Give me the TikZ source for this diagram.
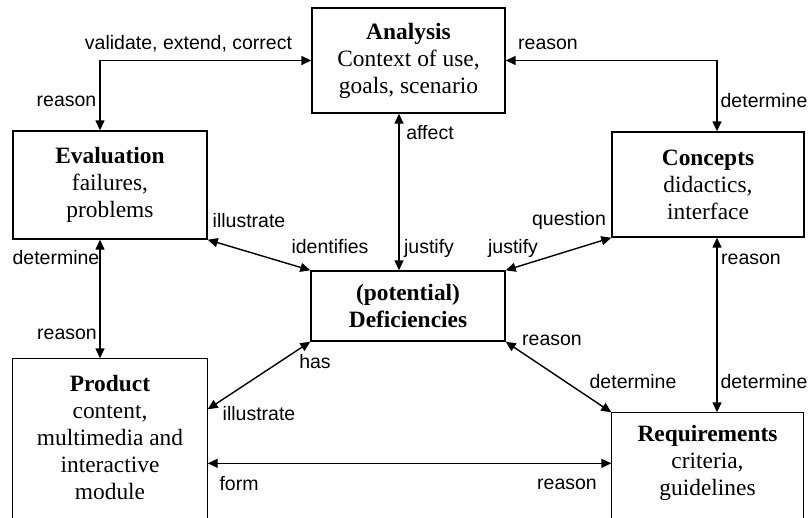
\documentclass[tikz,border=0pt]{standalone}
\usepackage{fontspec}
\setmainfont{Liberation Serif}
\setsansfont{Liberation Sans}
\usetikzlibrary{arrows.meta,calc}
\begin{document}
\begin{tikzpicture}[x=1pt,y=-1pt,
  box/.style={draw,line width=1.4pt,align=center,inner sep=0pt,font=\fontsize{23.4}{27}\selectfont},
  lbl/.style={font=\sffamily\fontsize{19.5}{22}\selectfont,inner sep=0pt},
  conn/.style={line width=1.4pt,{Triangle[length=10pt,width=9pt]}-{Triangle[length=10pt,width=9pt]}},
  edge/.style={line width=1.4pt}]
\useasboundingbox (0,0) rectangle (808,517);
\clip (0,0) rectangle (808,517);

% boxes
\node[box,minimum width=193pt,minimum height=105pt] (ana) at (408.5,60.5)
  {\textbf{Analysis}\\Context of use,\\goals, scenario};
\node[box,minimum width=194pt,minimum height=108pt] (eva) at (110,185)
  {\textbf{Evaluation}\\failures,\\problems};
\node[box,minimum width=192pt,minimum height=105pt] (con) at (708,184.5)
  {\textbf{Concepts}\\didactics,\\interface};
\node[box,minimum width=194pt,minimum height=70pt] (def) at (408,306)
  {\textbf{(potential)}\\\textbf{Deficiencies}};
\node[box,draw=none,minimum width=194pt,minimum height=156pt] (pro) at (110,437)
  {\textbf{Product}\\content,\\multimedia and\\interactive\\module};
\draw[edge] ([yshift=-20pt]pro.south west) -- (pro.north west) -- (pro.north east) -- ([yshift=-20pt]pro.south east);
\node[box,draw=none,minimum width=191pt,minimum height=100pt] (req) at (707.5,463)
  {\textbf{Requirements}\\criteria,\\guidelines};
\draw[edge] ([yshift=-20pt]req.south west) -- (req.north west) -- (req.north east) -- ([yshift=-20pt]req.south east);

% connectors
\draw[conn] ([xshift=-10pt]eva.north) |- (ana.west);
\draw[conn] (ana.east) -| ([xshift=9pt]con.north);
\draw[conn] ([xshift=-9.5pt]ana.south) -- ([xshift=-9.5pt]ana.south |- def.north);
\draw[conn] (eva.south east) -- (def.north west);
\draw[conn] (con.south west) -- (def.north east);
\draw[conn] ([xshift=-10pt]eva.south) -- ([xshift=-10pt]eva.south |- pro.north);
\draw[conn] (def.south west) -- ([yshift=-51pt]pro.north east);
\draw[conn] (def.south east) -- (req.north west);
\draw[conn] ([xshift=9pt]con.south) -- ([xshift=9pt]con.south |- req.north);
\coordinate (pf) at ([yshift=-105pt]pro.north east);
\draw[conn] (pf) -- (pf -| req.west);

% labels
\node[lbl] (l1) at (188.5,44) {validate, extend, correct};
\node[lbl] (l2) at (66.5,101) {reason};
\node[lbl] (l3) at (548,44) {reason};
\node[lbl] (l4) at (764,101) {determine};
\node[lbl] (l5) at (430,133) {affect};
\node[lbl] (l6) at (429,248) {justify};
\node[lbl] (l7) at (569,220) {question};
\node[lbl] (l8) at (513,248) {justify};
\node[lbl] (l9) at (330,247) {identifies};
\node[lbl] (l10) at (249,221) {illustrate};
\node[lbl] (l11) at (56,258) {determine};
\node[lbl] (l12) at (67,334) {reason};
\node[lbl] (l13) at (315,362) {has};
\node[lbl] (l14) at (259,414) {illustrate};
\node[lbl] (l15) at (239,484) {form};
\node[lbl] (l16) at (567,484) {reason};
\node[lbl] (l17) at (552,340) {reason};
\node[lbl] (l18) at (633,382) {determine};
\node[lbl] (l19) at (764,382) {determine};
\node[lbl] (l20) at (751,259) {reason};
\end{tikzpicture}
\end{document}
